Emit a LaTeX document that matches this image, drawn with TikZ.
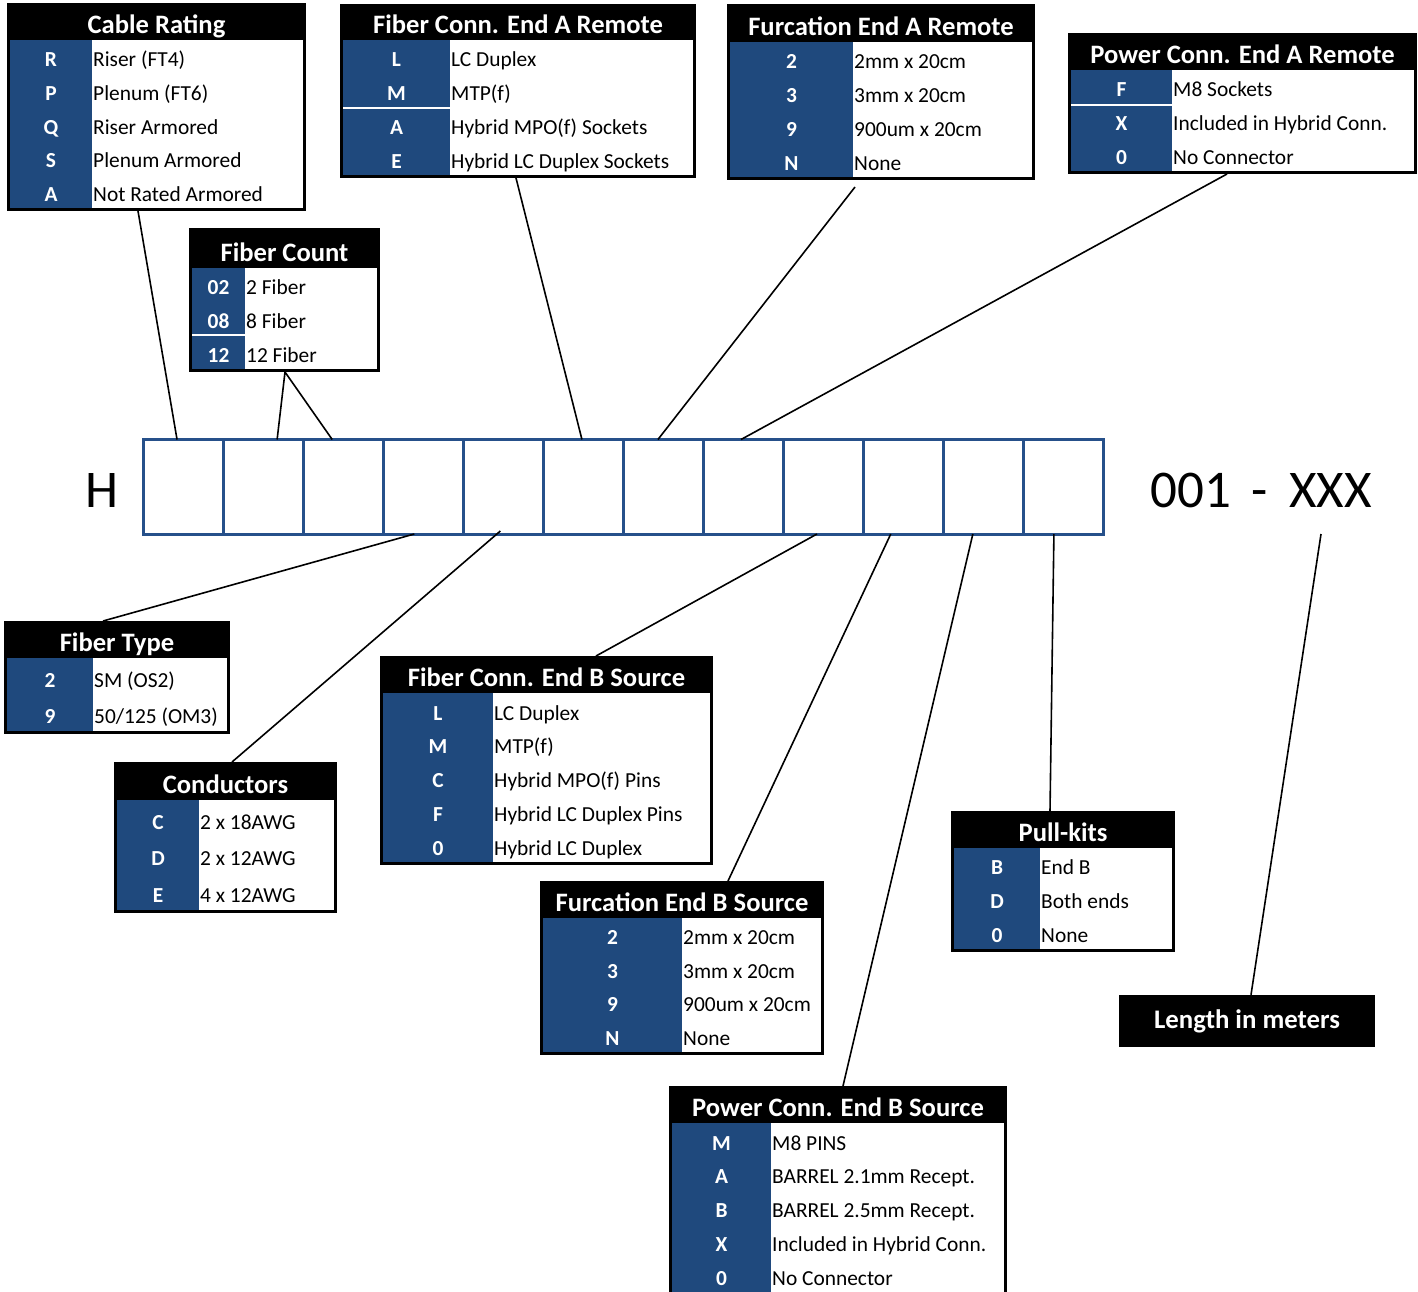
\documentclass[tikz,border=0pt]{standalone}
\usepackage{fontspec}
\setmainfont{Carlito}
\definecolor{keyblue}{RGB}{31,73,125}
\definecolor{stripblue}{RGB}{38,80,138}
\tikzset{
  headtxt/.style={text=white, font=\fontsize{26.6}{30}\selectfont\bfseries, inner sep=0pt},
  keytxt/.style={text=white, font=\fontsize{21.4}{25}\selectfont\bfseries, inner sep=0pt},
  valtxt/.style={text=black, font=\fontsize{21.4}{25}\selectfont, inner sep=0pt},
  bigtxt/.style={text=black, font=\fontsize{53}{60}\selectfont, inner sep=0pt},
  cell/.style={draw=stripblue, line width=3pt, minimum width=80.08pt, minimum height=94.5pt, inner sep=0pt, outer sep=0pt},
  conn/.style={draw=black, line width=1.6pt},
  sepline/.style={draw=white, line width=1.5pt},
  lenbox/.style={fill=black, text=white, font=\fontsize{26.8}{30}\selectfont\bfseries, minimum width=256pt, minimum height=52pt, text height=18pt, text depth=4pt, inner sep=0pt}
}
% \codetable{name}{L,T,R,B,HB,K}{title}{rows}
\newcommand\codetable[4]{\codetableparse{#1}#2\relax{#3}{#4}}
\def\codetableparse#1#2,#3,#4,#5,#6,#7\relax#8#9{%
  \fill[black] (#2,#3) rectangle (#4,{#5+3});
  \fill[keyblue] ({#2+3},#6) rectangle (#7,#5);
  \fill[white] (#7,#6) rectangle ({#4-3},#5);
  \node[headtxt, anchor=base] (#1-title) at ({(#2+#4)/2},{#6-7}) {#8};
  \foreach \kk/\vv [count=\nn] in {#9} {\xdef\rowcount{\nn}}%
  \pgfmathsetmacro\rowh{(#5-#6)/\rowcount}%
  \foreach \kk/\vv [count=\nn] in {#9} {%
    \pgfmathsetmacro\basey{#6+\nn*\rowh-0.23*\rowh+1}%
    \node[keytxt, anchor=base] (#1-k\nn) at ({(#2+3+#7)/2},\basey) {\kk};
    \node[valtxt, anchor=base west] (#1-v\nn) at ({#7+1},\basey) {\vv};
  }%
}
\begin{document}
\begin{tikzpicture}[x=1pt,y=-1pt]
\useasboundingbox (0,0) rectangle (1418,1291);
\clip (0,0) rectangle (1418,1291);
\fill[white] (0,0) rectangle (1418,1291);

% code strip
\node[bigtxt] (hcode) at (102,490) {H};
\foreach \i in {1,...,12} \node[cell] (c\i) at ({143+80.08*(\i-0.5)},486.75) {};
\node[bigtxt] (suffix) at (1261,490) {001\hspace{21pt}-\hspace{21pt}XXX};

% tables
\codetable{cr}{7,3,306,208,40,92}{Cable Rating}{R/Riser (FT4), P/Plenum (FT6), Q/Riser Armored, S/Plenum Armored, A/Not Rated Armored}
\codetable{fc}{189,228,380,369,268,245}{Fiber Count}{02/2 Fiber, 08/8 Fiber, 12/12 Fiber}
\codetable{fca}{340,4,696,175,40,450}{Fiber Conn. End A Remote}{L/LC Duplex, M/MTP(f), A/Hybrid MPO(f) Sockets, E/Hybrid LC Duplex Sockets}
\codetable{fua}{727,4,1035,177,42,853}{Furcation End A Remote}{2/2mm x 20cm, 3/3mm x 20cm, 9/900um x 20cm, N/None}
\codetable{pca}{1068,33,1417,171,70,1172}{Power Conn. End A Remote}{F/M8 Sockets, X/Included in Hybrid Conn., 0/No Connector}
\codetable{ft}{4,621,230,731,658,93}{Fiber Type}{2/SM (OS2), 9/{50/125 (OM3)}}
\codetable{cd}{114,762,337,910,800,199}{Conductors}{C/2 x 18AWG, D/2 x 12AWG, E/4 x 12AWG}
\codetable{fcb}{380,656,713,862,693,493}{Fiber Conn. End B Source}{L/LC Duplex, M/MTP(f), C/Hybrid MPO(f) Pins, F/Hybrid LC Duplex Pins, 0/Hybrid LC Duplex}
\codetable{fub}{540,881,824,1052,918,682}{Furcation End B Source}{2/2mm x 20cm, 3/3mm x 20cm, 9/900um x 20cm, N/None}
\codetable{pk}{951,811,1175,949,848,1040}{Pull-kits}{B/End B, D/Both ends, 0/None}
\codetable{pcb}{669,1086,1007,1292,1123,771}{Power Conn. End B Source}{M/M8 PINS, A/BARREL 2.1mm Recept., B/BARREL 2.5mm Recept., X/Included in Hybrid Conn., 0/No Connector}

% thin white separators in key columns
\draw[sepline] (192,335) -- (245,335);
\draw[sepline] (343,108) -- (450,108);
\draw[sepline] (1071,105) -- (1172,105);

% length box
\node[lenbox] (len) at (1247,1021) {Length in meters};

% connector end points at the tables
\coordinate (cr-end) at (138,211);
\coordinate (fc-end) at (285,372);
\coordinate (fca-end) at (516,178);
\coordinate (fua-end) at (855,187);
\coordinate (pca-end) at (1227,174);
\coordinate (ft-end) at (103,621);
\coordinate (cd-end) at (232,762);
\coordinate (fcb-end) at (596,656);
\coordinate (fub-end) at (728,881);
\coordinate (pcb-end) at (843,1086);
\coordinate (pk-end) at (1050,811);
\coordinate (len-tick) at (1321,534);

% connectors
\draw[conn] (cr-end) -- ([xshift=-6pt]c1.north);
\draw[conn] ([xshift=14pt]c2.north) -- (fc-end) -- ([xshift=-11pt]c3.north);
\draw[conn] (fca-end) -- ([xshift=-1.5pt]c6.north);
\draw[conn] (fua-end) -- ([xshift=-5.6pt]c7.north);
\draw[conn] (pca-end) -- ([xshift=-2.6pt]c8.north);
\draw[conn] ([xshift=-9pt]c4.south) -- (ft-end);
\draw[conn] ([xshift=-3pt,yshift=3pt]c5.south) -- (cd-end);
\draw[conn] ([xshift=-6.7pt]c9.south) -- (fcb-end);
\draw[conn] ([xshift=-13pt]c10.south) -- (fub-end);
\draw[conn] ([xshift=-11pt]c11.south) -- (pcb-end);
\draw[conn] ([xshift=-10pt]c12.south) -- (pk-end);
\draw[conn] (len-tick) -- ([xshift=4pt]len.north);
\end{tikzpicture}
\end{document}
